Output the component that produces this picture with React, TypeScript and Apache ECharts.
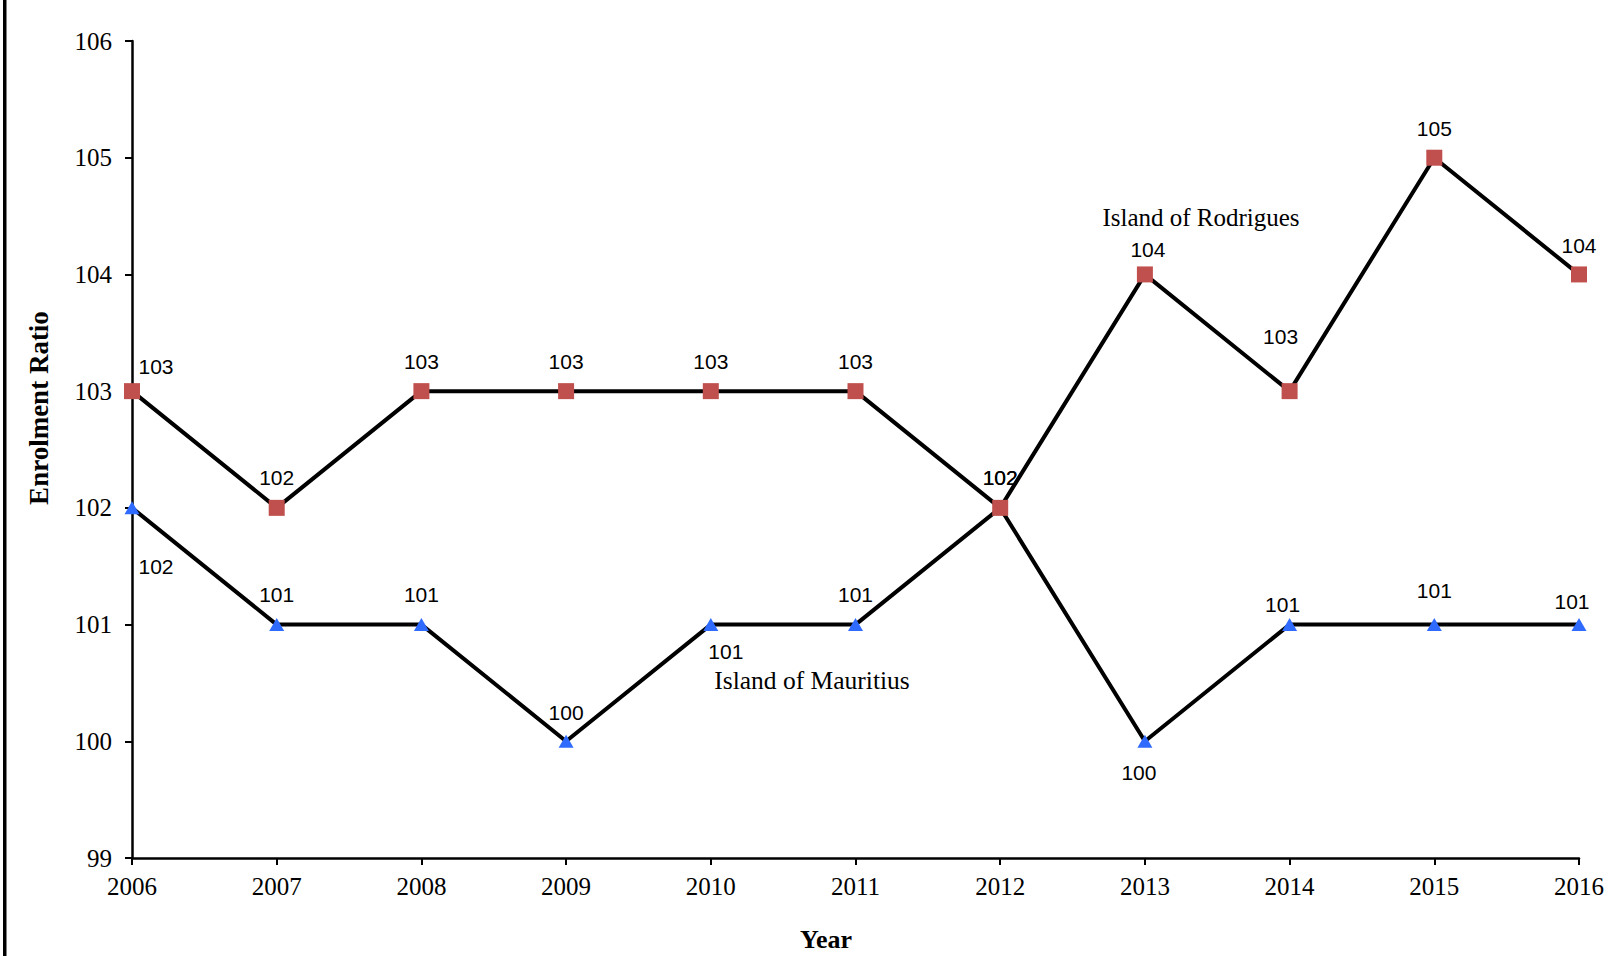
import React, { useEffect, useRef } from "react";
import * as echarts from "echarts";

const years = ["2006", "2007", "2008", "2009", "2010", "2011", "2012", "2013", "2014", "2015", "2016"];
const mauritius = [102, 101, 101, 100, 101, 101, 102, 100, 101, 101, 101];
const rodrigues = [103, 102, 103, 103, 103, 103, 102, 104, 103, 105, 104];

// label offsets (pixels, relative to the point)
const mauritiusLabelOffsets = [[24, 59], [0, -30], [0, -30], [0, -29], [15, 27], [0, -30], [0, -30], [-6, 31], [-7, -20], [0, -34], [-7, -23]];
const rodriguesLabelOffsets = [[24, -25], [0, -30], [0, -30], [0, -30], [0, -30], [0, -30], [0, -30], [3, -25], [-9, -55], [0, -29], [0, -29]];

const SERIF = "'Liberation Serif', 'Times New Roman', serif";
const SANS = "'Liberation Sans', Arial, sans-serif";

export default function App() {
  const ref = useRef<HTMLDivElement>(null);
  useEffect(() => {
    if (!ref.current) return;
    const chart = echarts.init(ref.current, null, { renderer: "svg" });
    const labelBase = {
      show: true,
      position: "inside",
      color: "#000",
      fontFamily: SANS,
      fontSize: 21,
    };
    const mkData = (vals: number[], offs: number[][]) =>
      vals.map((v, i) => ({ value: v, label: { offset: offs[i] } }));
    chart.setOption({
      animation: false,
      backgroundColor: "#fff",
      grid: { left: 132, right: 35, top: 41, bottom: 98, containLabel: false },
      xAxis: {
        type: "category",
        data: years,
        boundaryGap: false,
        axisLine: { lineStyle: { color: "#000", width: 2.5 } },
        axisTick: { show: true, inside: false, length: 7, lineStyle: { color: "#000", width: 2 } },
        axisLabel: { color: "#000", fontFamily: SERIF, fontSize: 25, margin: 16 },
        splitLine: { show: false },
      },
      yAxis: {
        type: "value",
        min: 99,
        max: 106,
        interval: 1,
        axisLine: { show: true, lineStyle: { color: "#000", width: 2.5 } },
        axisTick: { show: true, inside: false, length: 7, lineStyle: { color: "#000", width: 2 } },
        axisLabel: { color: "#000", fontFamily: SERIF, fontSize: 25, margin: 20 },
        splitLine: { show: false },
      },
      series: [
        {
          name: "Island of Mauritius",
          type: "line",
          data: mkData(mauritius, mauritiusLabelOffsets),
          symbol: "triangle",
          symbolSize: [15, 13],
          itemStyle: { color: "#2F6BFF" },
          lineStyle: { color: "#000", width: 4 },
          label: labelBase,
          z: 2,
        },
        {
          name: "Island of Rodrigues",
          type: "line",
          data: mkData(rodrigues, rodriguesLabelOffsets),
          symbol: "rect",
          symbolSize: 16,
          itemStyle: { color: "#C0504D" },
          lineStyle: { color: "#000", width: 4 },
          label: labelBase,
          z: 3,
        },
      ],
      graphic: [
        { type: "rect", left: 3, top: 0, shape: { x: 0, y: 0, width: 3.5, height: 956 }, style: { fill: "#000" } },
        {
          type: "text",
          x: 1201,
          y: 217,
          style: { text: "Island of Rodrigues", font: `25px ${SERIF}`, fill: "#000", align: "center", verticalAlign: "middle" },
        },
        {
          type: "text",
          x: 812,
          y: 680,
          style: { text: "Island of Mauritius", font: `25.5px ${SERIF}`, fill: "#000", align: "center", verticalAlign: "middle" },
        },
        {
          type: "text",
          x: 39,
          y: 408,
          rotation: Math.PI / 2,
          style: { text: "Enrolment Ratio", font: `bold 27px ${SERIF}`, fill: "#000", align: "center", verticalAlign: "middle" },
        },
        {
          type: "text",
          x: 826,
          y: 939,
          style: { text: "Year", font: `bold 26px ${SERIF}`, fill: "#000", align: "center", verticalAlign: "middle" },
        },
      ],
    });
    return () => chart.dispose();
  }, []);
  return (
    <div
      ref={ref}
      style={{ position: "fixed", left: 0, top: 0, width: 1614, height: 956, background: "#fff" }}
    />
  );
}
